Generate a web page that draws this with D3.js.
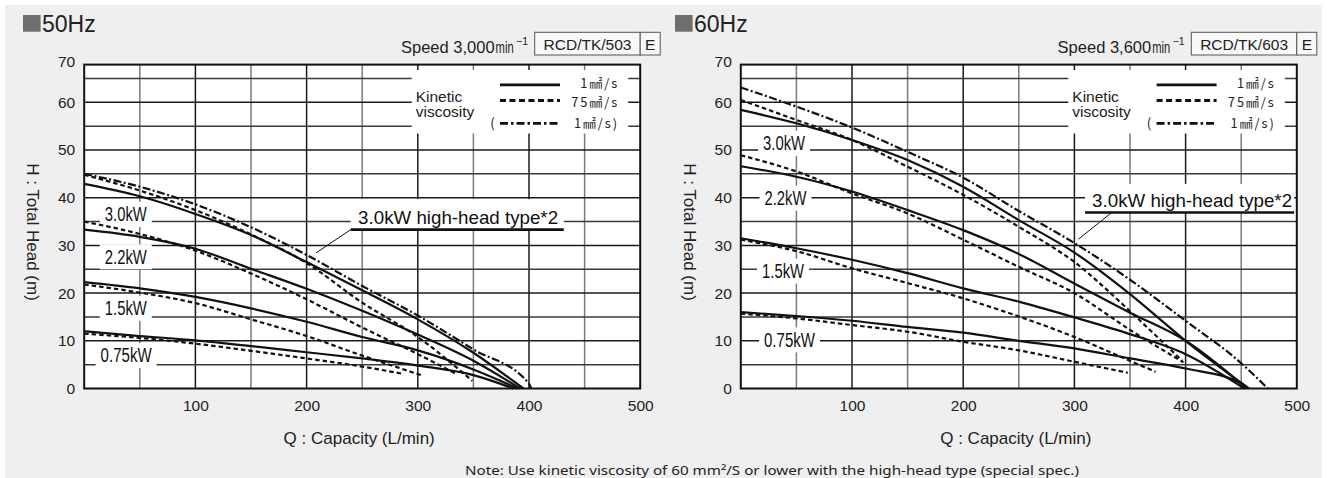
<!DOCTYPE html>
<html>
<head>
<meta charset="utf-8">
<script src="https://cdn.jsdelivr.net/npm/d3@7"></script>
<style>
  body { margin: 0; background: #fff; }
  svg { display: block; font-family: 'Liberation Sans', Arial, sans-serif; }
</style>
</head>
<body>
<svg id="chart" width="1327" height="478"></svg>
<script>
// curves are [capacity L/min, total head m]
// 50Hz
const hz50HighHead = [[0,45.0],[50,42.3],[100,38.6],[150,33.8],[200,28.0],[250,21.5],[300,15.3],[350,8.2],[400,1.0],[402,0]]
const hz50Kw30 = [[0,42.9],[50,40.3],[100,36.6],[150,32.2],[200,26.5],[250,20.6],[300,14.5],[350,7.5],[395,0]]
const hz50Kw30v75 = [[0,44.8],[50,41.5],[100,37.4],[150,32.3],[200,26.3],[250,18.0],[300,10.8],[349,1.6]]
const hz50Kw22 = [[0,33.3],[50,31.8],[100,29.3],[150,25.1],[200,20.9],[250,16.3],[300,11.3],[350,5.8],[392,0]]
const hz50Kw22v75 = [[0,35.0],[50,32.4],[100,28.9],[150,24.1],[200,18.7],[250,12.8],[300,7.2],[335,3.0]]
const hz50Kw15 = [[0,22.3],[50,21.0],[100,19.2],[150,16.8],[200,14.0],[250,10.8],[300,8.0],[350,4.0],[390,0]]
const hz50Kw15v75 = [[0,21.8],[50,20.1],[100,17.9],[150,14.5],[200,11.0],[250,6.9],[303,2.8]]
const hz50Kw075 = [[0,12.0],[50,11.0],[100,10.1],[150,8.9],[200,7.6],[250,6.3],[300,4.8],[350,2.8],[386,0]]
const hz50Kw075v75 = [[0,11.5],[50,10.6],[100,9.4],[150,7.9],[200,6.3],[250,4.6],[286,3.1]]

// 60Hz
const hz60HighHead = [[0,63.1],[50,59.1],[100,54.7],[150,49.6],[200,44.2],[250,37.2],[300,30.5],[350,22.8],[400,14.2],[450,5.3],[474,0]]
const hz60Kw30 = [[0,58.4],[50,55.6],[100,52.1],[150,47.9],[200,42.3],[250,35.3],[300,28.5],[350,19.8],[400,10.0],[457,0]]
const hz60Kw30v75 = [[0,60.5],[50,56.3],[100,52.1],[150,46.5],[200,40.6],[250,33.9],[300,26.5],[350,16.2],[375,10.7],[397,5.8]]
const hz60Kw22 = [[0,46.6],[50,44.4],[100,41.3],[150,37.4],[200,33.2],[250,28.2],[300,22.0],[350,15.9],[400,10.0],[455,0]]
const hz60Kw22v75 = [[0,48.9],[50,45.5],[100,40.9],[150,36.7],[200,31.2],[250,25.5],[300,20.0],[350,12.3],[398,5.5]]
const hz60Kw15 = [[0,31.5],[50,29.4],[100,27.0],[150,24.2],[200,21.0],[250,18.2],[300,14.9],[350,11.4],[400,7.2],[453,0]]
const hz60Kw15v75 = [[0,31.2],[50,28.8],[100,25.2],[150,22.1],[200,18.9],[250,15.1],[300,10.8],[350,5.8],[373,3.5]]
const hz60Kw075 = [[0,16.0],[50,15.2],[100,14.2],[150,12.9],[200,11.7],[250,10.0],[300,8.4],[350,6.3],[400,4.2],[451,1.0],[455,0]]
const hz60Kw075v75 = [[0,15.7],[50,14.7],[100,13.3],[150,11.9],[200,9.8],[250,8.0],[300,5.6],[348,3.3]]

const xTicks = [100, 200, 300, 400, 500]
const yTicks = [0, 10, 20, 30, 40, 50, 60, 70]
const xGrid = [50, 100, 150, 200, 250, 300, 350, 400, 450]
const yGrid = [5, 10, 15, 20, 25, 30, 35, 40, 45, 50, 55, 60, 65]
const kwNames = ['3.0kW', '2.2kW', '1.5kW', '0.75kW']
const legendLabels = ['1㎟/s', '75㎟/s', '1㎟/s)']
const highHeadLabel = '3.0kW high-head type*2'
const noteText = 'Note: Use kinetic viscosity of 60 mm²/S or lower with the high-head type (special spec.)'

const dashes = { solid: null, dash: '4.5,3', dashdot: '8,2.5,2,2.5' }

const panels = [
  {
    x0: 84.2, titleX: 23, title: '50Hz', speed: '3,000', model: 'RCD/TK/503',
    series: [
      [hz50Kw075v75, 'dash'], [hz50Kw15v75, 'dash'], [hz50Kw22v75, 'dash'], [hz50Kw30v75, 'dash'],
      [hz50Kw075, 'solid'], [hz50Kw15, 'solid'], [hz50Kw22, 'solid'], [hz50Kw30, 'solid'],
      [hz50HighHead, 'dashdot']
    ],
    kwPos: [[37.4, 36.6], [37.4, 27.7], [37.4, 16.9], [37.7, 7.0]],
    ann: { q: 246.3, h: 34.5, q1: 239.6, q2: 431.3, hu: 33.3, top: 39.7, lq1: 239.6, lq2: 208.4, lh2: 28.4 }
  },
  {
    x0: 740.8, titleX: 675, title: '60Hz', speed: '3,600', model: 'RCD/TK/603',
    series: [
      [hz60Kw075v75, 'dash'], [hz60Kw15v75, 'dash'], [hz60Kw22v75, 'dash'], [hz60Kw30v75, 'dash'],
      [hz60Kw075, 'solid'], [hz60Kw15, 'solid'], [hz60Kw22, 'solid'], [hz60Kw30, 'solid'],
      [hz60HighHead, 'dashdot']
    ],
    kwPos: [[38.9, 51.5], [40.2, 40.0], [38.0, 24.7], [43.8, 10.3]],
    ann: { q: 315.9, h: 38.1, q1: 309.6, q2: 497.6, hu: 36.9, top: 42.9, lq1: 333.6, lq2: 303.6, lh2: 31.3 }
  }
]

const svg = d3.select('#chart')
svg.append('rect').attr('x', 5).attr('y', 5).attr('width', 1317).attr('height', 473).attr('fill', '#efefef')

const yTop = 67.9

panels.forEach(p => {
  const x = d3.scaleLinear().domain([0, 500]).range([p.x0, p.x0 + 556])
  const y = d3.scaleLinear().domain([0, 70]).range([388.5, 54.6])
  const g = svg.append('g')

  // header
  g.append('rect').attr('x', p.titleX).attr('y', 15).attr('width', 17.6).attr('height', 16.7).attr('fill', '#6e6e6e')
  g.append('text').attr('x', p.titleX + 19).attr('y', 31.7).attr('font-size', 23).attr('fill', '#222').text(p.title)

  const minX = x(500) - 112.6 - 32
  g.append('text').attr('y', 53).attr('font-size', 16.5).attr('fill', '#222')
    .attr('text-anchor', 'end').attr('x', minX - 1).text('Speed ' + p.speed)
  g.append('text').attr('transform', `translate(${minX},53) scale(0.68,1)`).attr('font-size', 16.5).attr('fill', '#222')
    .text('min')
  g.append('text').attr('x', minX + 20.5).attr('y', 45).attr('font-size', 10.5).attr('fill', '#222').text('−1')

  g.append('rect').attr('x', x(500) - 105.5).attr('y', 32.3).attr('width', 105.5).attr('height', 22.7)
    .attr('fill', '#f8f8f8').attr('stroke', '#555').attr('stroke-width', 1)
  g.append('rect').attr('x', x(500)).attr('y', 32.3).attr('width', 20).attr('height', 22.7)
    .attr('fill', '#f8f8f8').attr('stroke', '#555').attr('stroke-width', 1)
  g.append('text').attr('x', x(500) - 52.7).attr('y', 49.5).attr('text-anchor', 'middle').attr('font-size', 15.5)
    .attr('fill', '#222').text(p.model)
  g.append('text').attr('x', x(500) + 10).attr('y', 49.5).attr('text-anchor', 'middle').attr('font-size', 15.5)
    .attr('fill', '#222').text('E')

  // plot area
  g.append('rect').attr('x', x(0)).attr('y', y(yTop)).attr('width', x(500) - x(0)).attr('height', y(0) - y(yTop))
    .attr('fill', '#fff')

  g.selectAll('.vgrid').data(xGrid).enter().append('line')
    .attr('x1', d => x(d)).attr('x2', d => x(d)).attr('y1', y(0)).attr('y2', y(yTop))
    .attr('stroke', d => d % 100 ? '#7a7a7a' : '#1a1a1a').attr('stroke-width', 1.5)
  g.selectAll('.hgrid').data(yGrid).enter().append('line')
    .attr('x1', x(0)).attr('x2', x(500)).attr('y1', d => y(d)).attr('y2', d => y(d))
    .attr('stroke', d => d % 10 ? '#3a3a3a' : '#1a1a1a').attr('stroke-width', 1.5)

  // legend box
  const lg = g.append('g')
  lg.append('rect').attr('x', x(0) + 327.5).attr('y', 70).attr('width', 216.5).attr('height', 63.5).attr('fill', '#fff')
  lg.append('text').attr('x', x(0) + 331.5).attr('y', 101.5).attr('font-size', 15.5).attr('fill', '#222').text('Kinetic')
  lg.append('text').attr('x', x(0) + 331.5).attr('y', 116.5).attr('font-size', 15.5).attr('fill', '#222').text('viscosity')
  const rowY = [84.8, 100.5, 123.3]
  const rowBase = [87.5, 106.5, 128]
  legendLabels.forEach((lab, i) => {
    lg.append('line').attr('x1', x(0) + 415.8).attr('x2', x(0) + 475.8).attr('y1', rowY[i]).attr('y2', rowY[i])
      .attr('stroke', '#111').attr('stroke-width', 2.8)
      .attr('stroke-dasharray', i === 1 ? '6,3.5' : (i === 2 ? '8,3,2.5,3' : null))
    lg.append('text').attr('x', x(0) + 535).attr('y', rowBase[i]).attr('text-anchor', 'end')
      .attr('font-family', "'Noto Sans CJK JP', sans-serif").attr('font-size', 12.8).attr('letter-spacing', 2)
      .attr('fill', '#222').text(lab)
  })
  lg.append('text').attr('x', x(0) + 406).attr('y', rowBase[2]).attr('font-family', "'Noto Sans CJK JP', sans-serif")
    .attr('font-size', 13.5).attr('fill', '#222').text('(')

  // kW label boxes
  kwNames.forEach((name, i) => {
    const cx = x(p.kwPos[i][0])
    const cy = y(p.kwPos[i][1])
    const w = name.length > 5 ? 51 : 42
    g.append('rect').attr('x', cx - w / 2 - 5).attr('y', cy - 12).attr('width', w + 10).attr('height', 25).attr('fill', '#fff')
    g.append('text').attr('x', cx - w / 2).attr('y', cy + 7.3).attr('font-size', 20.5).attr('fill', '#111')
      .attr('textLength', w).attr('lengthAdjust', 'spacingAndGlyphs').text(name)
  })

  // high-head annotation
  const a = p.ann
  g.append('rect').attr('x', x(a.q1)).attr('y', y(a.top)).attr('width', x(a.q2) - x(a.q1)).attr('height', y(a.hu) - y(a.top))
    .attr('fill', '#fff')

  // curves
  const line = d3.line().x(d => x(d[0])).y(d => y(d[1])).curve(d3.curveMonotoneX)
  g.selectAll('.curve').data(p.series).enter().append('path')
    .attr('d', d => line(d[0]))
    .attr('fill', 'none').attr('stroke', '#111').attr('stroke-width', 2.2)
    .attr('stroke-dasharray', d => dashes[d[1]])

  g.append('text').attr('x', x(a.q)).attr('y', y(a.h)).attr('font-size', 19).attr('fill', '#111')
    .attr('textLength', 200).attr('lengthAdjust', 'spacingAndGlyphs').text(highHeadLabel)
  g.append('line').attr('x1', x(a.q1)).attr('x2', x(a.q2)).attr('y1', y(a.hu)).attr('y2', y(a.hu))
    .attr('stroke', '#111').attr('stroke-width', 2.6)
  g.append('line').attr('x1', x(a.lq1)).attr('y1', y(a.hu)).attr('x2', x(a.lq2)).attr('y2', y(a.lh2))
    .attr('stroke', '#111').attr('stroke-width', 1)

  // frame
  g.append('rect').attr('x', x(0)).attr('y', y(yTop)).attr('width', x(500) - x(0)).attr('height', y(0) - y(yTop))
    .attr('fill', 'none').attr('stroke', '#111').attr('stroke-width', 2)

  // axes
  const xAxis = g.append('g').attr('transform', `translate(0,${y(0)})`)
    .call(d3.axisBottom(x).tickValues(xTicks).tickSize(0).tickPadding(11))
  const yAxis = g.append('g').attr('transform', `translate(${x(0)},0)`)
    .call(d3.axisLeft(y).tickValues(yTicks).tickSize(0).tickPadding(9))
  yAxis.selectAll('.tick').filter(d => d === 70).attr('transform', `translate(0,${y(yTop) - 2.5})`)
  ;[xAxis, yAxis].forEach(ax => {
    ax.select('.domain').remove()
    ax.selectAll('text').attr('font-size', 15.5).attr('fill', '#222')
      .attr('font-family', "'Liberation Sans', Arial, sans-serif")
  })

  g.append('text').attr('x', x(0) + 275).attr('y', 444).attr('text-anchor', 'middle').attr('font-size', 17)
    .attr('fill', '#222').text('Q : Capacity (L/min)')
  g.append('text').attr('transform', `translate(${x(0) - 51},232) rotate(90)`).attr('text-anchor', 'middle')
    .attr('dy', '0.35em').attr('font-size', 17).attr('fill', '#222').text('H : Total Head (m)')
})

svg.append('text').attr('x', 465).attr('y', 474.5).attr('font-family', "'Noto Sans', sans-serif")
  .attr('font-size', 13).attr('fill', '#222').attr('textLength', 614).attr('lengthAdjust', 'spacingAndGlyphs')
  .text(noteText)
</script>
</body>
</html>
